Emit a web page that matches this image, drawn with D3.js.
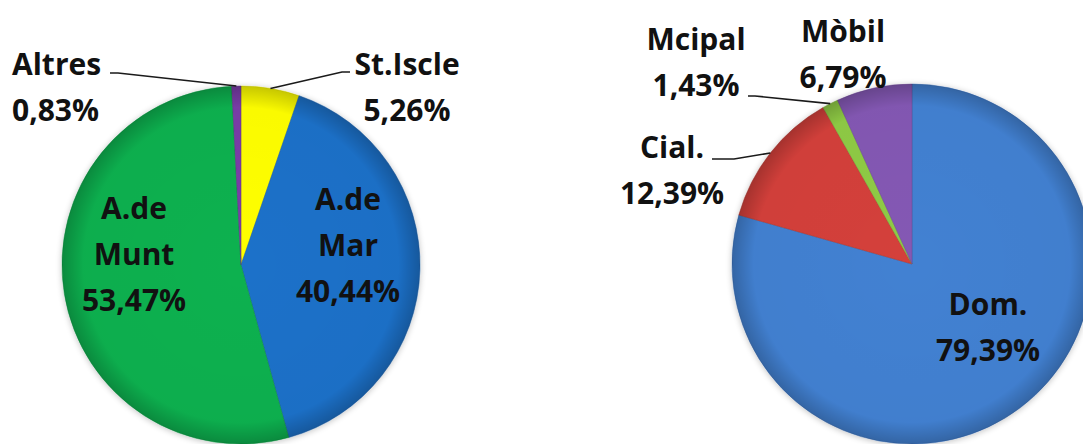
<!DOCTYPE html>
<html><head><meta charset="utf-8">
<script src="https://cdn.jsdelivr.net/npm/d3@7"></script>
<style>
html,body{margin:0;padding:0;background:#fff;overflow:hidden;}
svg{display:block;}
</style></head>
<body>
<script>
// ---- data ----
const leftCategories = ["St.Iscle", "A.de Mar", "A.de Munt", "Altres"];
const leftValues = [5.26, 40.44, 53.47, 0.83];
const leftLabels = ["5,26%", "40,44%", "53,47%", "0,83%"];
const leftColors = ["#FFFF00", "#1F71C9", "#0DB14F", "#7A3DA8"];

const rightCategories = ["Dom.", "Cial.", "Mcipal", "Mòbil"];
const rightValues = [79.39, 12.39, 1.43, 6.79];
const rightLabels = ["79,39%", "12,39%", "1,43%", "6,79%"];
const rightColors = ["#4381D2", "#D4403A", "#8FCB45", "#8458B4"];

// ---- layout ----
const W = 1083, H = 444;
const svg = d3.select("body").append("svg").attr("width", W).attr("height", H);
const defs = svg.append("defs");

const shadow = defs.append("filter").attr("id", "shadow").attr("x", "-20%").attr("y", "-20%").attr("width", "140%").attr("height", "140%");
shadow.append("feGaussianBlur").attr("in", "SourceAlpha").attr("stdDeviation", 3);
shadow.append("feOffset").attr("dx", 0).attr("dy", 1).attr("result", "b");
shadow.append("feComponentTransfer").append("feFuncA").attr("type", "linear").attr("slope", 0.25);
const m = shadow.append("feMerge");
m.append("feMergeNode");
m.append("feMergeNode").attr("in", "SourceGraphic");

const rg = defs.append("radialGradient").attr("id", "rim");
rg.append("stop").attr("offset", "0%").attr("stop-color", "#000").attr("stop-opacity", 0);
rg.append("stop").attr("offset", "88%").attr("stop-color", "#000").attr("stop-opacity", 0.02);
rg.append("stop").attr("offset", "100%").attr("stop-color", "#000").attr("stop-opacity", 0.22);

const fontSize = 30, lineH = 46;

function drawPie(cfg) {
  const g = svg.append("g").attr("transform", `translate(${cfg.cx},${cfg.cy})`);
  const pie = d3.pie().sort(null).value(d => d.value);
  const arcs = pie(cfg.cats.map((c, i) => ({cat: c, value: cfg.values[i], label: cfg.labels[i], color: cfg.colors[i], i})));
  const arc = d3.arc().innerRadius(0).outerRadius(cfg.r);
  const edge = d3.arc().innerRadius(cfg.r).outerRadius(cfg.r);

  const pg = g.append("g").attr("filter", "url(#shadow)");
  pg.selectAll("path.slice").data(arcs).join("path")
    .attr("class", "slice")
    .attr("d", arc)
    .attr("fill", d => d.data.color)
    .attr("stroke", d => d3.color(d.data.color).darker(0.6))
    .attr("stroke-width", 0.8)
    .attr("stroke-opacity", 0.6);
  g.append("circle").attr("r", cfg.r).attr("fill", "url(#rim)").attr("pointer-events", "none");

  arcs.forEach(d => {
    const L = cfg.layout[d.data.i];
    const lines = L.lines;
    const tx = L.dx, ty = L.dy;
    const t = g.append("text")
      .attr("font-family", "'Open Sans', sans-serif")
      .attr("font-weight", 700)
      .attr("font-size", fontSize)
      .attr("fill", "#111")
      .attr("text-anchor", L.anchor || "middle");
    lines.forEach((s, k) => {
      t.append("tspan").attr("x", tx).attr("y", ty + k * lineH).text(s);
    });
    if (L.leader) {
      const p = edge.centroid(d);
      const [sx, sy, hx] = L.leader;
      g.append("path")
        .attr("d", d3.line()([[sx, sy], [hx, sy], p]))
        .attr("fill", "none")
        .attr("stroke", "#1a1a1a")
        .attr("stroke-width", 1.6);
    }
  });
}

drawPie({
  cx: 241, cy: 265, r: 179,
  cats: leftCategories, values: leftValues, labels: leftLabels, colors: leftColors,
  layout: [
    {lines: ["St.Iscle", leftLabels[0]], dx: 166, dy: -190, leader: [109, -193, 101]},
    {lines: ["A.de", "Mar", leftLabels[1]], dx: 107, dy: -55},
    {lines: ["A.de", "Munt", leftLabels[2]], dx: -107, dy: -46},
    {lines: ["Altres", leftLabels[3]], dx: -229, dy: -190, anchor: "start", leader: [-131, -192, -123]}
  ]
});

drawPie({
  cx: 912, cy: 264, r: 180,
  cats: rightCategories, values: rightValues, labels: rightLabels, colors: rightColors,
  layout: [
    {lines: ["Dom.", rightLabels[0]], dx: 76, dy: 51},
    {lines: ["Cial.", rightLabels[1]], dx: -240, dy: -106, leader: [-200, -105, -178]},
    {lines: ["Mcipal", rightLabels[2]], dx: -216, dy: -214, leader: [-164, -168, -157]},
    {lines: ["Mòbil", rightLabels[3]], dx: -69, dy: -222}
  ]
});
</script>
</body></html>
